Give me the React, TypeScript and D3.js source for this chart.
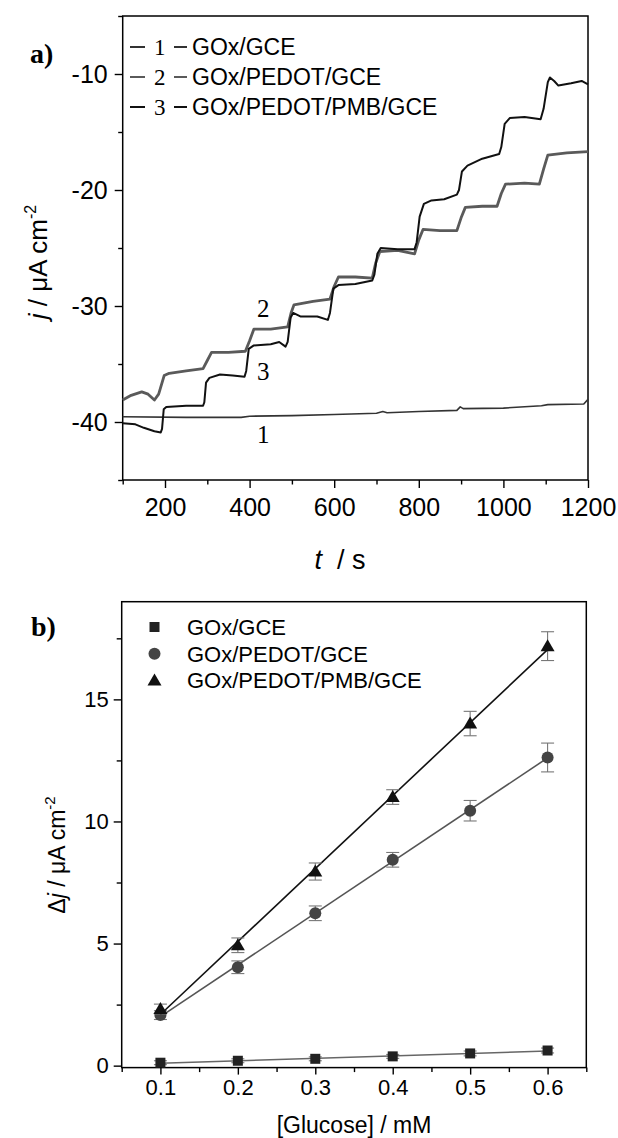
import React, { useEffect, useRef } from 'react';
import * as d3 from 'd3';

// panel a) amperometric traces, [t (s), j (µA cm-2)]
const curve1 = [
  [100, -39.55], [250, -39.6], [380, -39.6], [400, -39.5], [500, -39.45], [600, -39.35],
  [700, -39.25], [715, -39.1], [725, -39.2], [800, -39.1], [890, -39.0], [898, -38.7],
  [905, -38.85], [1000, -38.8], [1090, -38.6], [1105, -38.5], [1190, -38.45], [1200, -38.05],
];
const curve2 = [
  [100, -38.1], [120, -37.7], [145, -37.4], [160, -37.6], [175, -38.1], [185, -37.6],
  [198, -36.0], [210, -35.8], [250, -35.6], [290, -35.4], [300, -34.7], [310, -34.0],
  [350, -34.0], [390, -33.9], [400, -33.0], [410, -32.0], [450, -32.0], [490, -31.8],
  [498, -30.6], [505, -29.9], [550, -29.6], [590, -29.4], [600, -28.3], [610, -27.5],
  [650, -27.5], [690, -27.6], [698, -26.3], [708, -25.3], [750, -25.2], [790, -25.5],
  [800, -24.3], [810, -23.4], [850, -23.5], [890, -23.5], [900, -22.4], [910, -21.5],
  [950, -21.4], [985, -21.4], [995, -20.3], [1005, -19.5], [1050, -19.4], [1085, -19.5],
  [1095, -18.2], [1105, -17.0], [1150, -16.8], [1200, -16.7],
];
const curve3 = [
  [100, -40.1], [130, -40.2], [150, -40.5], [175, -40.8], [190, -40.9], [193, -40.6],
  [197, -38.9], [203, -38.7], [250, -38.6], [290, -38.6], [293, -38.3], [297, -36.6],
  [305, -36.2], [330, -35.9], [360, -36.0], [388, -36.1], [392, -35.6], [398, -33.7],
  [410, -33.4], [450, -33.3], [470, -33.1], [485, -33.5], [490, -33.1], [497, -31.0],
  [503, -30.6], [520, -30.9], [560, -30.9], [585, -31.2], [590, -30.6], [598, -28.5],
  [610, -28.2], [650, -28.1], [690, -27.8], [695, -27.3], [702, -25.5], [710, -25.0],
  [750, -25.1], [790, -25.1], [795, -24.5], [802, -22.3], [812, -21.2], [830, -20.9],
  [860, -20.8], [890, -20.4], [895, -20.0], [902, -18.4], [915, -17.9], [950, -17.3],
  [990, -16.9], [995, -16.3], [1003, -14.3], [1015, -13.8], [1050, -13.7], [1088, -13.9],
  [1095, -13.0], [1105, -10.7], [1110, -10.3], [1120, -10.6], [1130, -11.0], [1160, -10.8],
  [1185, -10.6], [1200, -10.9],
];
const tMajor = [200, 400, 600, 800, 1000, 1200];
const tMinor = [100, 300, 500, 700, 900, 1100];
const jMajor = [-40, -30, -20, -10];
const jMinor = [-45, -35, -25, -15, -5];
const traceNames = ['GOx/GCE', 'GOx/PEDOT/GCE', 'GOx/PEDOT/PMB/GCE'];
const traceColors = ['#333', '#5a5a5a', '#111'];
// curve number labels [t, j]
const traceTags = [[432, -41.85, '1'], [432, -30.95, '2'], [432, -36.35, '3']];

// panel b) calibration
const conc = [0.1, 0.2, 0.3, 0.4, 0.5, 0.6];
const dGce = [0.12, 0.2, 0.28, 0.38, 0.5, 0.62];
const dGceErr = [0.08, 0.08, 0.08, 0.08, 0.1, 0.1];
const dPedot = [2.07, 4.03, 6.24, 8.43, 10.44, 12.62];
const dPedotErr = [0.18, 0.26, 0.3, 0.3, 0.42, 0.59];
const dPmb = [2.32, 4.93, 7.95, 11.0, 14.01, 17.18];
const dPmbErr = [0.2, 0.3, 0.35, 0.3, 0.5, 0.59];
const cMajor = [0.1, 0.2, 0.3, 0.4, 0.5, 0.6];
const cMinor = [0.05, 0.15, 0.25, 0.35, 0.45, 0.55, 0.65];
const dMajor = [0, 5, 10, 15];
const dMinor = [2.5, 7.5, 12.5, 17.5];

const SANS = '"Liberation Sans", Arial, sans-serif';
const SERIF = '"Liberation Serif", "Times New Roman", serif';

const xA = d3.scaleLinear().domain([100, 1200]).range([122.7, 588]);
const yA = d3.scaleLinear().domain([-45, -5]).range([480, 16]);
const xB = d3.scaleLinear().domain([0.05, 0.65]).range([121.7, 586.3]);
const yB = d3.scaleLinear().domain([-0.08, 19]).range([1067.6, 601.7]);

function fit(xs, ys) {
  const mx = d3.mean(xs), my = d3.mean(ys);
  let sxy = 0, sxx = 0;
  xs.forEach((x, i) => { sxy += (x - mx) * (ys[i] - my); sxx += (x - mx) * (x - mx); });
  const k = sxy / sxx;
  return (x) => my + k * (x - mx);
}

const bSeries = [
  { name: 'GOx/GCE', vals: dGce, err: dGceErr, shape: 'square', fill: '#222', line: '#666' },
  { name: 'GOx/PEDOT/GCE', vals: dPedot, err: dPedotErr, shape: 'circle', fill: '#444', line: '#555' },
  { name: 'GOx/PEDOT/PMB/GCE', vals: dPmb, err: dPmbErr, shape: 'triangle', fill: '#111', line: '#111' },
];

function Marker({ shape, x, y, fill }) {
  if (shape === 'square') return <rect x={x - 5} y={y - 5} width={10} height={10} fill={fill} />;
  if (shape === 'circle') return <circle cx={x} cy={y} r={6} fill={fill} />;
  return <path d={`M${x},${y - 7}L${x + 7},${y + 5}L${x - 7},${y + 5}Z`} fill={fill} />;
}

const plain = (d) => String(d);

export default function App() {
  const axRef = useRef(null);

  useEffect(() => {
    const g = d3.select(axRef.current);
    g.selectAll('*').remove();
    const style = (sel, size) => {
      sel.select('.domain').remove();
      sel.selectAll('line').attr('stroke', '#000').attr('stroke-width', 1.4);
      sel.selectAll('text').attr('font-family', SANS).attr('font-size', size).attr('fill', '#000');
    };
    // panel a
    g.append('g').attr('transform', 'translate(0,480)')
      .call(d3.axisBottom(xA).tickValues(tMajor).tickSize(8).tickPadding(10).tickFormat(plain).tickSizeOuter(0))
      .call((s) => style(s, 25));
    g.append('g').attr('transform', 'translate(0,480)')
      .call(d3.axisBottom(xA).tickValues(tMinor).tickSize(4.5).tickFormat(() => '').tickSizeOuter(0))
      .call((s) => style(s, 25));
    g.append('g').attr('transform', 'translate(122.7,0)')
      .call(d3.axisLeft(yA).tickValues(jMajor).tickSize(8).tickPadding(7).tickFormat(plain).tickSizeOuter(0))
      .call((s) => style(s, 25));
    g.append('g').attr('transform', 'translate(122.7,0)')
      .call(d3.axisLeft(yA).tickValues(jMinor).tickSize(4.5).tickFormat(() => '').tickSizeOuter(0))
      .call((s) => style(s, 25));
    // panel b
    g.append('g').attr('transform', 'translate(0,1067.6)')
      .call(d3.axisBottom(xB).tickValues(cMajor).tickSize(7).tickPadding(5).tickFormat(d3.format('.1f')).tickSizeOuter(0))
      .call((s) => style(s, 22));
    g.append('g').attr('transform', 'translate(0,1067.6)')
      .call(d3.axisBottom(xB).tickValues(cMinor).tickSize(4.5).tickFormat(() => '').tickSizeOuter(0))
      .call((s) => style(s, 22));
    g.append('g').attr('transform', 'translate(121.7,0)')
      .call(d3.axisLeft(yB).tickValues(dMajor).tickSize(8).tickPadding(5).tickFormat(plain).tickSizeOuter(0))
      .call((s) => style(s, 22));
    g.append('g').attr('transform', 'translate(121.7,0)')
      .call(d3.axisLeft(yB).tickValues(dMinor).tickSize(5).tickFormat(() => '').tickSizeOuter(0))
      .call((s) => style(s, 22));
  }, []);

  const lineA = d3.line().x((d) => xA(d[0])).y((d) => yA(d[1]));
  const traces = [curve1, curve2, curve3];
  const widths = [1.6, 2.8, 2];

  return (
    <svg width={618} height={1138} style={{ position: 'absolute', left: 0, top: 0, background: '#fff' }}>
      <rect width={618} height={1138} fill="#fff" />
      {/* panel a */}
      <rect x={xA(100)} y={yA(-5)} width={xA(1200) - xA(100)} height={yA(-45) - yA(-5)}
        fill="none" stroke="#000" strokeWidth={1.5} />
      {traces.map((c, i) => (
        <path key={i} d={lineA(c)} fill="none" stroke={traceColors[i]} strokeWidth={widths[i]}
          strokeLinejoin="round" />
      ))}
      {traceTags.map(([t, j, s]) => (
        <text key={s} x={xA(t)} y={yA(j)} fontFamily={SERIF} fontSize={25} textAnchor="middle">{s}</text>
      ))}
      {traceNames.map((n, i) => {
        const y = 47 + i * 30;
        return (
          <g key={n}>
            <line x1={130} x2={145} y1={y} y2={y} stroke={traceColors[i]} strokeWidth={2} />
            <text x={154} y={y + 8} fontFamily={SERIF} fontSize={23}>{i + 1}</text>
            <line x1={174} x2={187} y1={y} y2={y} stroke={traceColors[i]} strokeWidth={2} />
            <text x={192} y={y + 8} fontFamily={SANS} fontSize={23}>{n}</text>
          </g>
        );
      })}
      <text x={30} y={63} fontFamily={SERIF} fontSize={28} fontWeight="bold">a)</text>
      <text transform="translate(47,262) rotate(-90)" fontFamily={SANS} fontSize={26} textAnchor="middle"
        style={{ whiteSpace: 'pre' }}>
        <tspan fontStyle="italic">j</tspan>{' / μA cm'}<tspan fontSize={16} dy={-11}>-2</tspan>
      </text>
      <text x={340} y={569} fontFamily={SANS} fontSize={27} textAnchor="middle" style={{ whiteSpace: 'pre' }}>
        <tspan fontStyle="italic">t</tspan>{'  / s'}
      </text>

      {/* panel b */}
      <rect x={xB(0.05)} y={yB(19)} width={xB(0.65) - xB(0.05)} height={yB(-0.08) - yB(19)}
        fill="none" stroke="#000" strokeWidth={1.5} />
      {bSeries.map((s) => {
        const f = fit(conc, s.vals);
        return (
          <g key={s.name}>
            <line x1={xB(conc[0])} x2={xB(conc[conc.length - 1])} y1={yB(f(conc[0]))}
              y2={yB(f(conc[conc.length - 1]))} stroke={s.line} strokeWidth={1.6} />
            {conc.map((c, i) => (
              <g key={c} stroke="#777" strokeWidth={1.1}>
                <line x1={xB(c)} x2={xB(c)} y1={yB(s.vals[i] - s.err[i])} y2={yB(s.vals[i] + s.err[i])} />
                <line x1={xB(c) - 6.5} x2={xB(c) + 6.5} y1={yB(s.vals[i] - s.err[i])} y2={yB(s.vals[i] - s.err[i])} />
                <line x1={xB(c) - 6.5} x2={xB(c) + 6.5} y1={yB(s.vals[i] + s.err[i])} y2={yB(s.vals[i] + s.err[i])} />
              </g>
            ))}
            {conc.map((c, i) => (
              <Marker key={c} shape={s.shape} x={xB(c)} y={yB(s.vals[i])} fill={s.fill} />
            ))}
          </g>
        );
      })}
      {bSeries.map((s, i) => {
        const y = 627 + i * 26.7;
        return (
          <g key={s.name}>
            <Marker shape={s.shape} x={154.5} y={y} fill={s.fill} />
            <text x={187} y={y + 8} fontFamily={SANS} fontSize={22}>{s.name}</text>
          </g>
        );
      })}
      <text x={31} y={636} fontFamily={SERIF} fontSize={28} fontWeight="bold">b)</text>
      <text transform="translate(65,855) rotate(-90)" fontFamily={SANS} fontSize={23} textAnchor="middle"
        style={{ whiteSpace: 'pre' }}>
        Δ<tspan fontStyle="italic">j</tspan>{' / μA cm'}<tspan fontSize={15} dy={-10}>-2</tspan>
      </text>
      <text x={354} y={1133} fontFamily={SANS} fontSize={23} textAnchor="middle">[Glucose] / mM</text>

      <g ref={axRef} />
    </svg>
  );
}
